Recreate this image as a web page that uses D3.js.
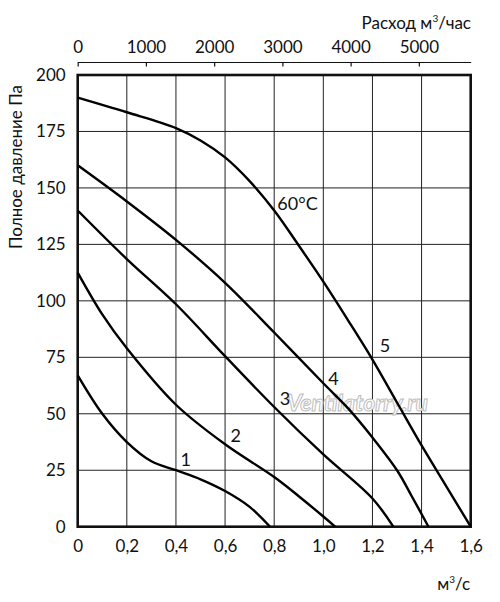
<!DOCTYPE html>
<html>
<head>
<meta charset="utf-8">
<script src="https://cdn.jsdelivr.net/npm/d3@7"></script>
<style>
  body { margin: 0; background: #fff; }
  text { font-family: Lato, "Open Sans", sans-serif; fill: #111; }
</style>
</head>
<body>
<div id="chart"></div>
<script>
// fan curves, flow in m3/s, pressure in Pa
var flow1 = [0, 0.1, 0.2, 0.3, 0.4, 0.5, 0.6, 0.7, 0.783]
var pres1 = [67, 50, 37.5, 29, 25, 21, 15.8, 8.8, 0]

var flow2 = [0, 0.1, 0.2, 0.4, 0.6, 0.8, 0.9, 1.0, 1.048]
var pres2 = [112.5, 94, 79, 54, 36.5, 22, 13.5, 4.5, 0]

var flow3 = [0, 0.2, 0.4, 0.6, 0.8, 1.0, 1.2, 1.285]
var pres3 = [140, 118.5, 98.5, 75.5, 53, 32, 12.5, 0]

var flow4 = [0, 0.2, 0.4, 0.6, 0.8, 1.0, 1.1, 1.2, 1.3, 1.36, 1.428]
var pres4 = [160, 144, 127, 108, 86, 63.5, 52.5, 39.5, 25, 13.5, 0]

var flow5 = [0, 0.2, 0.4, 0.5, 0.6, 0.7, 0.8, 0.9, 1.0, 1.1, 1.2, 1.3, 1.4, 1.5, 1.6]
var pres5 = [190, 183.5, 176.5, 171, 163.5, 153, 140, 124.5, 108.5, 91.5, 74, 55, 36, 18, 0]

var curveNames = ["1", "2", "3", "4", "5"]
var labelFlow = [0.44, 0.643, 0.844, 1.041, 1.251]
var labelPres = [30, 40.6, 56.9, 65.7, 80.5]

var xTicks = [0, 0.2, 0.4, 0.6, 0.8, 1.0, 1.2, 1.4, 1.6]
var yTicks = [0, 25, 50, 75, 100, 125, 150, 175, 200]
var topTicks = [0, 1000, 2000, 3000, 4000, 5000]

var svgSize = { width: 500, height: 602 }
var margin = { top: 75, left: 77.7, right: 29.3, bottom: 75.3 }
var chartSize = {
    width: svgSize.width - margin.left - margin.right,
    height: svgSize.height - margin.top - margin.bottom
}

var svg = d3.select("#chart").append("svg")
            .attr("width", svgSize.width)
            .attr("height", svgSize.height)
var frame = svg.append("g")
            .attr("transform", `translate(${margin.left}, ${margin.top})`)

var xScale = d3.scaleLinear().domain([0, 1.6]).range([0, chartSize.width])
var yScale = d3.scaleLinear().domain([0, 200]).range([chartSize.height, 0])
// m3/h on top: 1.6 m3/s = 5760 m3/h
var topScale = d3.scaleLinear().domain([0, 5760]).range([0, chartSize.width])

// grid
frame.append("g").selectAll("line").data(xTicks.slice(1, -1))
    .enter().append("line")
    .attr("x1", d => xScale(d)).attr("x2", d => xScale(d))
    .attr("y1", 0).attr("y2", chartSize.height)
    .attr("stroke", "#222").attr("stroke-width", 1)
frame.append("g").selectAll("line").data(yTicks.slice(1, -1))
    .enter().append("line")
    .attr("y1", d => yScale(d)).attr("y2", d => yScale(d))
    .attr("x1", 0).attr("x2", chartSize.width)
    .attr("stroke", "#222").attr("stroke-width", 1)

// watermark
frame.append("text")
    .attr("x", xScale(1.139)).attr("y", yScale(55))
    .attr("text-anchor", "middle")
    .attr("dominant-baseline", "central")
    .style("font-size", "23px").style("font-style", "italic").style("font-weight", "bold")
    .style("fill", "#fff").style("stroke", "#bdbdbd").style("stroke-width", 1)
    .text("Ventilatorry.ru")

// axes
var fmt = d => d === 0 ? "0" : d.toFixed(1).replace(".", ",")
var bottomAxis = d3.axisBottom(xScale).tickValues(xTicks).tickSize(0).tickPadding(13).tickFormat(fmt)
var leftAxis = d3.axisLeft(yScale).tickValues(yTicks).tickSize(0).tickPadding(12)
var topAxis = d3.axisTop(topScale).tickValues(topTicks).tickSize(-4.5).tickSizeOuter(0).tickPadding(9)
                .tickFormat(d3.format("d"))

var gb = frame.append("g").attr("transform", `translate(0, ${chartSize.height})`).call(bottomAxis)
var gl = frame.append("g").call(leftAxis)
var gt = frame.append("g").attr("transform", "translate(0, -13)").call(topAxis)
gb.select(".domain").remove()
gl.select(".domain").remove()
gt.select(".domain").attr("stroke", "#111").attr("stroke-width", 1.2)
gt.selectAll(".tick line").attr("stroke", "#111").attr("stroke-width", 1.2).attr("y2", 4.5)
svg.selectAll(".tick text").style("font-size", "17px").style("font-family", "Lato, 'Open Sans', sans-serif").attr("fill", "#111")
gt.selectAll(".tick text").attr("y", -9)

// border
frame.append("rect")
    .attr("width", chartSize.width).attr("height", chartSize.height)
    .attr("fill", "none").attr("stroke", "#111").attr("stroke-width", 2.6)

// curves
var allFlow = [flow1, flow2, flow3, flow4, flow5]
var allPres = [pres1, pres2, pres3, pres4, pres5]
var line = d3.line()
    .x(d => xScale(d[0])).y(d => yScale(d[1]))
    .curve(d3.curveCatmullRom.alpha(0.5))

allFlow.forEach((f, i) => {
    var pts = f.map((q, j) => [q, allPres[i][j]])
    frame.append("path").datum(pts)
        .attr("d", line)
        .attr("fill", "none").attr("stroke", "#000").attr("stroke-width", 2.4)
})

frame.selectAll(".curve-label").data(curveNames)
    .enter().append("text")
    .attr("class", "curve-label")
    .attr("x", (d, i) => xScale(labelFlow[i]))
    .attr("y", (d, i) => yScale(labelPres[i]))
    .attr("text-anchor", "middle")
    .attr("dominant-baseline", "central")
    .style("font-size", "18px")
    .text(d => d)

frame.append("text")
    .attr("x", xScale(0.895)).attr("y", yScale(143.5))
    .attr("text-anchor", "middle")
    .attr("dominant-baseline", "central")
    .style("font-size", "18px")
    .text("60°C")

// titles
svg.append("text")
    .attr("x", 471).attr("y", 29)
    .attr("text-anchor", "end")
    .style("font-size", "17px")
    .html("Расход м<tspan dy='-7' style='font-size:10px'>3</tspan><tspan dy='7'>/час</tspan>")

svg.append("text")
    .attr("x", 470).attr("y", 590)
    .attr("text-anchor", "end")
    .style("font-size", "17px")
    .html("м<tspan dy='-7' style='font-size:10px'>3</tspan><tspan dy='7'>/с</tspan>")

svg.append("text")
    .attr("transform", "translate(22, 167) rotate(-90)")
    .attr("text-anchor", "middle")
    .style("font-size", "17px")
    .text("Полное давление Па")
</script>
</body>
</html>
